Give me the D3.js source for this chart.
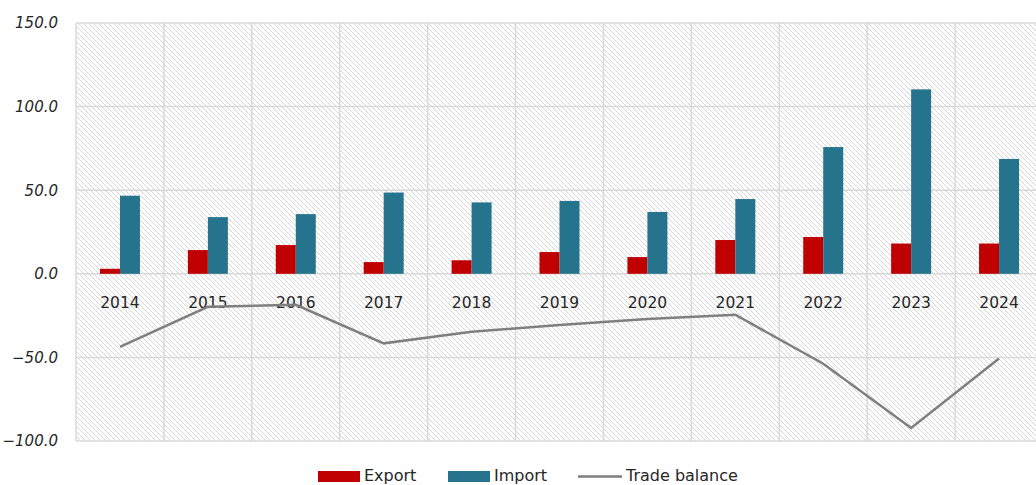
<html>
<head>
<meta charset="utf-8">
<script src="https://d3js.org/d3.v7.min.js"></script>
<style>
  body { margin: 0; background: #fff; }
  text { font-family: "DejaVu Sans", sans-serif; fill: #262626; }
</style>
</head>
<body>
<div id="chart"></div>
<script>
// values
const years = ["2014","2015","2016","2017","2018","2019","2020","2021","2022","2023","2024"];
const exportVals = [3.0, 14.2, 17.2, 7.0, 8.1, 13.0, 10.0, 20.2, 22.0, 18.1, 18.1];
const importVals = [46.7, 33.9, 35.7, 48.6, 42.7, 43.6, 37.0, 44.7, 75.8, 110.3, 68.7];
const balanceVals = [-43.7, -19.7, -18.5, -41.6, -34.6, -30.6, -27.0, -24.5, -53.8, -92.2, -50.6];
const yTicks = [-100, -50, 0, 50, 100, 150];
const seriesNames = ["Export", "Import", "Trade balance"];
const seriesColors = ["#c00000", "#25738c", "#7f7f7f"];

const width = 1036, height = 485;
const margin = {top: 23, left: 76, bottom: 44};
const plotRight = 1043; // plot runs slightly past the window edge

let svg = d3.select("#chart").append("svg")
    .attr("width", width)
    .attr("height", height);

// diagonal hatch background
let defs = svg.append("defs");
let pat = defs.append("pattern")
    .attr("id", "hatch")
    .attr("patternUnits", "userSpaceOnUse")
    .attr("width", 5).attr("height", 5);
pat.append("path")
    .attr("d", "M-1,-1 L6,6 M-1,4 L1,6 M4,-1 L6,1")
    .attr("stroke", "#d6d6d6")
    .attr("stroke-width", 1);

let xScale = d3.scaleBand()
    .domain(years)
    .range([margin.left, plotRight])
    .padding(0);

let yScale = d3.scaleLinear()
    .domain([-100, 150])
    .range([height - margin.bottom, margin.top]);

const bw = xScale.bandwidth();
let inner = d3.scaleBand()
    .domain(["Export", "Import"])
    .range([bw / 2 - 20, bw / 2 + 20]);

svg.append("rect")
    .attr("x", margin.left)
    .attr("y", yScale(150))
    .attr("width", plotRight - margin.left)
    .attr("height", yScale(-100) - yScale(150))
    .attr("fill", "url(#hatch)");

// gridlines
let grid = svg.append("g").attr("id", "grid");
grid.selectAll("line.h")
    .data(yTicks)
    .join("line")
    .attr("class", "h")
    .attr("x1", margin.left).attr("x2", plotRight)
    .attr("y1", d => yScale(d)).attr("y2", d => yScale(d))
    .attr("stroke", "#d9d9d9").attr("stroke-width", 1.5);
grid.selectAll("line.v")
    .data(years)
    .join("line")
    .attr("class", "v")
    .attr("x1", d => xScale(d)).attr("x2", d => xScale(d))
    .attr("y1", yScale(150)).attr("y2", yScale(-100))
    .attr("stroke", "#d9d9d9").attr("stroke-width", 1.5);

// y axis labels
let leftAxis = d3.axisLeft(yScale)
    .tickValues(yTicks)
    .tickFormat(d3.format(".1f"))
    .tickSize(0)
    .tickPadding(18);
let yAxis = svg.append("g")
    .attr("transform", "translate(" + margin.left + ",0)")
    .call(leftAxis);
yAxis.select(".domain").remove();
yAxis.selectAll("text")
    .style("font-family", "'DejaVu Sans', sans-serif")
    .style("font-size", "15px")
    .style("font-style", "italic")
    .attr("fill", "#3a3a3a");

// bars
let bars = svg.append("g").attr("id", "bars");
bars.selectAll("rect.export")
    .data(years)
    .join("rect")
    .attr("class", "export")
    .attr("x", d => xScale(d) + inner("Export"))
    .attr("width", inner.bandwidth())
    .attr("y", (d, i) => yScale(exportVals[i]))
    .attr("height", (d, i) => yScale(0) - yScale(exportVals[i]))
    .attr("fill", seriesColors[0]);
bars.selectAll("rect.import")
    .data(years)
    .join("rect")
    .attr("class", "import")
    .attr("x", d => xScale(d) + inner("Import"))
    .attr("width", inner.bandwidth())
    .attr("y", (d, i) => yScale(importVals[i]))
    .attr("height", (d, i) => yScale(0) - yScale(importVals[i]))
    .attr("fill", seriesColors[1]);

// x axis labels sit below the zero line
let bottomAxis = d3.axisBottom(xScale)
    .tickSize(0)
    .tickPadding(23);
let xAxis = svg.append("g")
    .attr("transform", "translate(0," + yScale(0) + ")")
    .call(bottomAxis);
xAxis.select(".domain").remove();
xAxis.selectAll("text")
    .style("font-family", "'DejaVu Sans', sans-serif")
    .style("font-size", "15.5px")
    .attr("fill", "#262626");

// trade balance line
let lineGen = d3.line()
    .x((d, i) => xScale(years[i]) + bw / 2)
    .y(d => yScale(d));
svg.append("path")
    .datum(balanceVals)
    .attr("fill", "none")
    .attr("stroke", seriesColors[2])
    .attr("stroke-width", 2.5)
    .attr("d", lineGen);

// legend
const legendX = [318, 448, 578];
let legend = svg.append("g").attr("id", "legend");
seriesNames.forEach((name, i) => {
    let g = legend.append("g").attr("transform", "translate(" + legendX[i] + ",475)");
    if (i < 2) {
        g.append("rect")
            .attr("x", 0).attr("y", -4)
            .attr("width", 42).attr("height", 11)
            .attr("fill", seriesColors[i]);
    } else {
        g.append("line")
            .attr("x1", 0).attr("x2", 44)
            .attr("y1", 1.5).attr("y2", 1.5)
            .attr("stroke", seriesColors[i])
            .attr("stroke-width", 2.5);
    }
    g.append("text")
        .attr("x", i < 2 ? 46 : 48)
        .attr("y", 0)
        .attr("dy", "0.35em")
        .style("font-size", "16px")
        .text(name);
});
</script>
</body>
</html>
